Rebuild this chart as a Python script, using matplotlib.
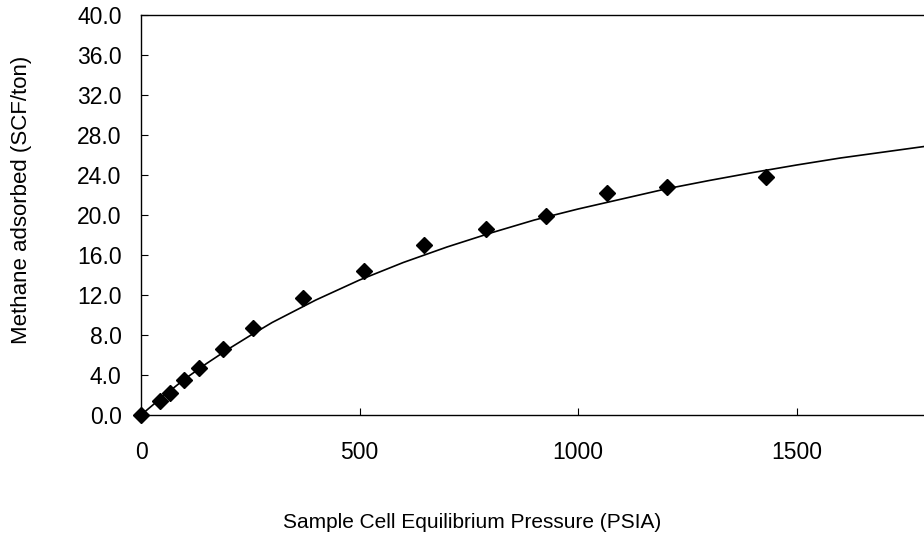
import numpy as np
import matplotlib
matplotlib.use("Agg")
import matplotlib.pyplot as plt

# measured points (pressure psia, adsorbed scf/ton)
pressure = [0, 43, 66, 99, 133, 188, 256, 371, 511, 648, 789, 927, 1066, 1204, 1431]
adsorbed = [0.0, 1.4, 2.2, 3.5, 4.7, 6.6, 8.7, 11.7, 14.4, 17.0, 18.6, 19.9, 22.2, 22.8, 23.8]

# fitted isotherm curve
fit_p = [0, 50, 100, 150, 200, 250, 300, 400, 500, 600, 700, 800, 900, 1000,
         1100, 1200, 1300, 1400, 1500, 1600, 1700, 1800]
fit_v = [0.0, 1.85, 3.6, 5.15, 6.6, 7.95, 9.25, 11.5, 13.5, 15.25, 16.8, 18.2, 19.5, 20.6,
         21.6, 22.6, 23.45, 24.25, 25.0, 25.7, 26.3, 26.9]

yticks = np.arange(0, 41, 4)
xticks = [0, 500, 1000, 1500]

plt.rcParams['font.family'] = ['Liberation Sans', 'DejaVu Sans']

fig = plt.figure(figsize=(9.24, 5.46), dpi=100)
ax = fig.add_axes([0.1526, 0.2399, 0.946, 0.7326])

ax.plot(fit_p, fit_v, color='black', lw=1.2, zorder=2)
ax.plot(pressure, adsorbed, 'D', color='black', ms=8, zorder=3, clip_on=False)

ax.set_xlim(0, 2000)
ax.set_ylim(0, 40)
ax.set_xticks(xticks)
ax.set_yticks(yticks)
ax.set_yticklabels(["%.1f" % v for v in yticks])
ax.tick_params(direction='in', length=5, width=0.8, labelsize=16.5)
ax.tick_params(axis='x', pad=19)
ax.tick_params(axis='y', pad=14)
for s in ax.spines.values():
    s.set_linewidth(1.0)

fig.text(472 / 924, 1 - 523 / 546, "Sample Cell Equilibrium Pressure (PSIA)",
         ha='center', va='center', fontsize=15)
fig.text(22 / 924, 1 - 200 / 546, "Methane adsorbed (SCF/ton)",
         ha='center', va='center', rotation=90, fontsize=16)

fig.savefig("out.png", dpi=100)
